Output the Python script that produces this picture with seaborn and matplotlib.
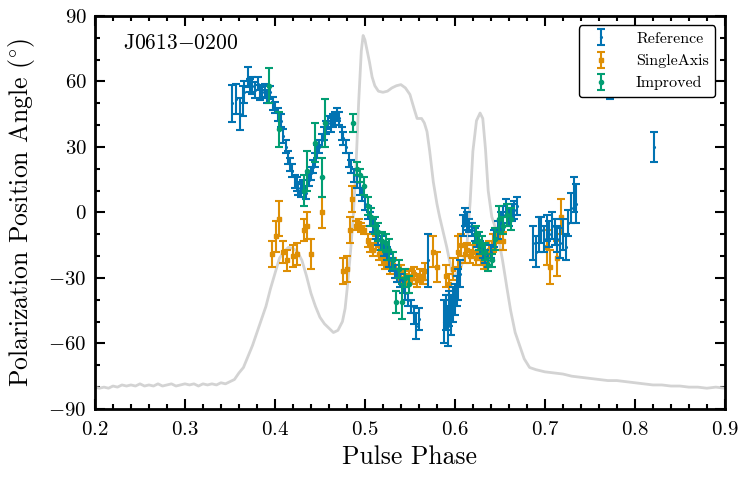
import matplotlib
matplotlib.use("Agg")
import matplotlib.pyplot as plt
import seaborn as sns
import numpy as np
from matplotlib.ticker import MultipleLocator

# Pulse profile (grey line), scaled onto the angle axis
profile_phase = [0.200, 0.205, 0.210, 0.215, 0.220, 0.225, 0.230, 0.235, 0.240, 0.245,
                 0.250, 0.255, 0.260, 0.265, 0.270, 0.275, 0.280, 0.285, 0.290, 0.295,
                 0.300, 0.305, 0.310, 0.315, 0.320, 0.325, 0.330, 0.335, 0.340, 0.345,
                 0.350, 0.355, 0.360, 0.365, 0.370, 0.375, 0.380, 0.385, 0.390, 0.395,
                 0.400, 0.405, 0.410, 0.415, 0.420, 0.425, 0.430, 0.435, 0.440, 0.445,
                 0.450, 0.455, 0.460, 0.465, 0.470, 0.475, 0.478, 0.481, 0.484, 0.487,
                 0.490, 0.493, 0.496, 0.498, 0.500, 0.502, 0.505, 0.508, 0.511, 0.515,
                 0.520, 0.525, 0.530, 0.535, 0.540, 0.545, 0.550, 0.555, 0.558, 0.563,
                 0.566, 0.569, 0.572, 0.576, 0.580, 0.583, 0.587, 0.591, 0.595, 0.598,
                 0.602, 0.606, 0.610, 0.613, 0.617, 0.620, 0.624, 0.628, 0.631, 0.634,
                 0.637, 0.641, 0.645, 0.649, 0.653, 0.658, 0.662, 0.667, 0.672, 0.677,
                 0.683, 0.690, 0.700, 0.710, 0.720, 0.730, 0.740, 0.750, 0.760, 0.770,
                 0.780, 0.790, 0.800, 0.810, 0.820, 0.830, 0.840, 0.850, 0.860, 0.870,
                 0.880, 0.890, 0.900]
profile_value = [-80, -80.5, -80, -80.5, -79.5, -80, -79, -79.5, -79, -79.5,
                 -78.5, -79.5, -79, -79.5, -78.5, -79.5, -79, -78.5, -79.5, -79,
                 -78.5, -79, -78.5, -79.5, -78.5, -79, -78.5, -79, -78, -78.5,
                 -77.5, -76.5, -73.5, -71, -66, -61, -55, -49, -43, -35,
                 -28, -21, -18, -16, -16.5, -18, -22, -29, -37, -43,
                 -48, -51, -53, -55, -54, -50, -44, -32, -18, -2,
                 20, 50, 74, 81, 79, 75, 69, 62, 58, 55.5,
                 55, 55.5, 57, 58, 58.5, 57, 54, 47, 43, 43,
                 41, 37, 28, 14, 4, -2, -9, -16, -24, -29.5,
                 -28, -26, -21, -17, 5, 28, 42, 45.5, 43, 29,
                 10, -2, -7, -13, -22, -35, -45, -55, -61, -67,
                 -71, -72, -73, -73.5, -74, -75, -75.5, -76, -76.5, -77,
                 -77, -77.5, -78, -78.5, -79, -79, -79.5, -79.5, -80, -80,
                 -80.5, -80, -80.5]

# Reference
ref_phase = [0.352, 0.357, 0.361, 0.364, 0.366, 0.370, 0.372, 0.374, 0.378, 0.381,
             0.383, 0.386, 0.389, 0.391, 0.395, 0.398, 0.400, 0.403, 0.407, 0.409,
             0.412, 0.414, 0.417, 0.419, 0.422, 0.424, 0.426, 0.429, 0.431, 0.434,
             0.438, 0.440, 0.442, 0.444, 0.447, 0.449, 0.452, 0.454, 0.457, 0.459,
             0.462, 0.464, 0.467, 0.469, 0.471, 0.474, 0.476, 0.479, 0.482, 0.485,
             0.488, 0.491, 0.494, 0.497, 0.500, 0.503, 0.506, 0.509, 0.512, 0.515,
             0.518, 0.521, 0.524, 0.527, 0.530, 0.533, 0.536, 0.539, 0.542, 0.545,
             0.548, 0.551, 0.554, 0.557, 0.560, 0.570, 0.588, 0.590, 0.592, 0.594,
             0.596, 0.598, 0.600, 0.602, 0.604, 0.606, 0.609, 0.611, 0.613, 0.616,
             0.619, 0.622, 0.625, 0.628, 0.631, 0.634, 0.637, 0.640, 0.644, 0.648,
             0.651, 0.654, 0.657, 0.660, 0.663, 0.666, 0.669, 0.687, 0.690, 0.693,
             0.696, 0.699, 0.702, 0.705, 0.708, 0.711, 0.714, 0.717, 0.720, 0.723,
             0.726, 0.729, 0.732, 0.735, 0.772, 0.821]
ref_pa = [50, 52, 45, 51, 55, 62, 58, 58, 56, 59,
          55, 55, 56, 53, 55, 50, 48, 45, 42, 35,
          30, 25, 22, 19, 14, 13, 11, 10, 12, 9,
          15, 18, 21, 24, 28, 30, 33, 36, 39, 41,
          40, 42, 43, 45, 43, 36, 34, 30, 24, 21,
          17, 14, 11, 8, 4, 0, -3, -6, -9, -12,
          -14, -17, -19, -22, -24, -27, -29, -31, -34, -37,
          -40, -43, -47, -52, -49, -22, -50, -46, -52, -44,
          -47, -42, -40, -36, -33, -28, -6, -2, -4, -6,
          -8, -10, -13, -16, -18, -20, -22, -18, -12, -8,
          -4, -1, 2, -2, 0, 1, 3, -14, -18, -10,
          -8, -12, -7, -10, -6, -9, -12, -14, -10, -16,
          -5, 2, 8, 4, 60, 30]
ref_err = [8.5, 7, 7.5, 7, 5, 4.5, 3, 4, 3.5, 3,
           3.5, 2.5, 3, 3, 3, 3, 2.5, 3, 3, 3,
           3, 3, 3, 3, 3, 3, 3, 3, 3, 3,
           3, 3, 3, 3, 3, 3, 3, 3, 3, 3,
           3, 3, 3, 3, 3, 3, 3, 3, 3, 3,
           3, 3, 3, 3, 3, 3, 3, 3, 3, 3,
           3, 3, 3, 3, 3, 3, 3, 3, 3, 3,
           3, 3, 4, 6, 5, 12, 10, 8, 9, 8,
           9, 8, 7, 7, 7, 6, 5, 4, 4, 3,
           3, 3, 3, 3, 3, 3, 3, 3, 4, 4,
           4, 4, 4, 4, 4, 4, 4, 8, 7, 8,
           6, 6, 6, 6, 6, 6, 6, 7, 7, 6,
           6, 7, 8, 9, 8, 7]

# SingleAxis
sa_phase = [0.397, 0.401, 0.405, 0.409, 0.413, 0.420, 0.424, 0.432, 0.436, 0.440,
            0.452, 0.476, 0.480, 0.483, 0.486, 0.490, 0.493, 0.496, 0.499, 0.503,
            0.506, 0.509, 0.512, 0.516, 0.519, 0.522, 0.525, 0.528, 0.531, 0.534,
            0.537, 0.540, 0.543, 0.546, 0.549, 0.552, 0.555, 0.558, 0.561, 0.564,
            0.567, 0.576, 0.580, 0.590, 0.594, 0.598, 0.603, 0.607, 0.611, 0.614,
            0.617, 0.620, 0.623, 0.626, 0.629, 0.632, 0.635, 0.638, 0.642, 0.646,
            0.650, 0.654, 0.702, 0.706, 0.713, 0.718]
sa_pa = [-19, -11, -3, -18, -22, -20, -19, -8, -6, -19,
         0, -27, -26, -8, 6, -6, -5, -7, -8, -13,
         -15, -17, -14, -19, -21, -23, -22, -25, -24, -27,
         -29, -27, -30, -31, -29, -30, -28, -31, -29, -30,
         -27, -18, -25, -29, -33, -26, -18, -15, -19, -17,
         -20, -18, -21, -19, -21, -23, -20, -17, -14, -12,
         -9, -13, -16, -25, -21, -2]
sa_err = [6, 7, 8, 5, 5, 5, 5, 5, 6, 7,
          7, 6, 6, 6, 6, 2, 2, 2, 2, 3,
          3, 3, 3, 3, 3, 3, 3, 3, 3, 3,
          3, 3, 3, 3, 3, 3, 3, 3, 3, 3,
          4, 7, 7, 5, 5, 5, 7, 5, 4, 3,
          3, 3, 3, 3, 3, 3, 3, 4, 4, 5,
          5, 4, 8, 8, 8, 8]

# Improved
imp_phase = [0.393, 0.404, 0.432, 0.436, 0.444, 0.452, 0.456, 0.487, 0.491, 0.495,
             0.499, 0.503, 0.507, 0.511, 0.515, 0.519, 0.523, 0.527, 0.531, 0.534,
             0.538, 0.541, 0.545, 0.549, 0.624, 0.627, 0.630, 0.633, 0.637, 0.641,
             0.645, 0.649, 0.653, 0.658, 0.662]
imp_pa = [58, 38, 10, 19, 32, 16, 41, 41, 20, 17,
          12, 3, -2, -6, -9, -13, -14, -17, -22, -41,
          -26, -41, -30, -33, -10, -13, -15, -18, -24, -22,
          -12, -3, -6, -1, -3]
imp_err = [8, 8, 7, 9, 9, 9, 11, 4, 3, 3,
           4, 4, 4, 4, 4, 4, 4, 5, 4, 5,
           4, 8, 4, 4, 4, 4, 4, 4, 3, 3,
           5, 6, 4, 5, 5]

sns.set_style("ticks")
plt.rcParams["font.family"] = "serif"
plt.rcParams["font.serif"] = ["cmr10"]
plt.rcParams["mathtext.fontset"] = "cm"
plt.rcParams["axes.formatter.use_mathtext"] = True
plt.rcParams["text.color"] = "black"
plt.rcParams["axes.labelcolor"] = "black"
plt.rcParams["xtick.color"] = "black"
plt.rcParams["ytick.color"] = "black"

colors = sns.color_palette("colorblind")

fig = plt.figure(figsize=(7.48, 4.8), dpi=100)
ax = fig.add_axes([0.127, 0.148, 0.842, 0.819])

sns.lineplot(x=profile_phase, y=profile_value, color="lightgray", lw=2,
             sort=False, estimator=None, ax=ax, zorder=1)

ax.errorbar(ref_phase, ref_pa, yerr=ref_err, fmt=".", ms=2.5, color=colors[0],
            capsize=3, elinewidth=1.5, capthick=1.5, label="Reference", zorder=3)
ax.errorbar(sa_phase, sa_pa, yerr=sa_err, fmt="s", ms=3.5, color=colors[1],
            capsize=3, elinewidth=1.5, capthick=1.5, label="SingleAxis", zorder=2)
ax.errorbar(imp_phase, imp_pa, yerr=imp_err, fmt="o", ms=3, color=colors[2],
            capsize=3, elinewidth=1.5, capthick=1.5, label="Improved", zorder=4)

ax.set_xlim(0.2, 0.9)
ax.set_ylim(-90, 90)
ax.xaxis.set_major_locator(MultipleLocator(0.1))
ax.xaxis.set_minor_locator(MultipleLocator(0.02))
ax.yaxis.set_major_locator(MultipleLocator(30))
ax.yaxis.set_minor_locator(MultipleLocator(10))
ax.tick_params(which="both", direction="in", top=True, right=True, width=1.5)
ax.tick_params(which="major", length=7, labelsize=15)
ax.tick_params(which="minor", length=3.5)
ax.tick_params(axis="x", which="major", pad=9)
ax.tick_params(axis="y", which="major", pad=6)
for sp in ax.spines.values():
    sp.set_linewidth(2)
    sp.set_color("black")

ax.set_xlabel("Pulse Phase", fontsize=18.5, labelpad=4)
ax.set_ylabel(r"Polarization Position Angle ($^{\circ}$)", fontsize=18.5, labelpad=8)
ax.text(0.045, 0.955, r"J0613$-$0200", transform=ax.transAxes, va="top",
        ha="left", fontsize=15.5)

leg = ax.legend(loc="upper right", fontsize=11.5, framealpha=1, fancybox=True,
                edgecolor="black", borderaxespad=0.6, handletextpad=1.2)
leg.get_frame().set_linewidth(1)

fig.savefig("out.png", dpi=100)
